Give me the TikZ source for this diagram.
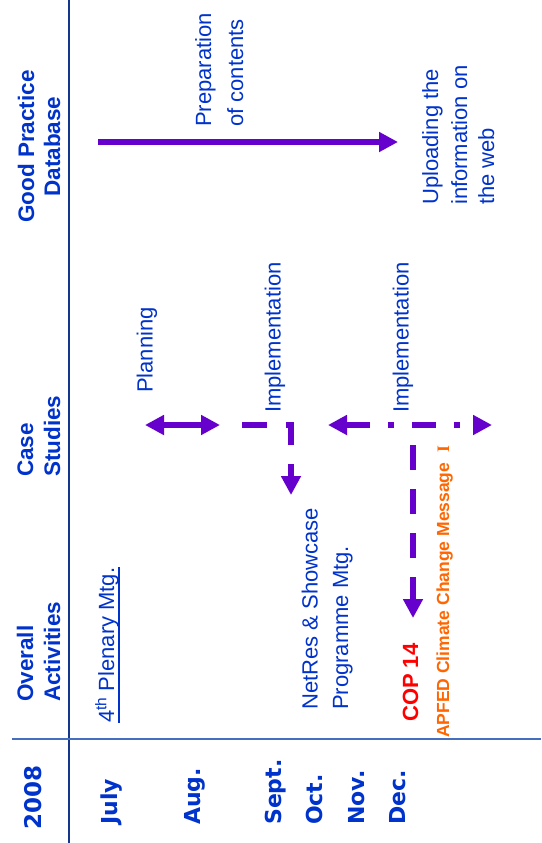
\documentclass[tikz,border=0pt]{standalone}
\usepackage{fontspec}
\setmainfont{Liberation Sans}
\newfontfamily\verdanalike{DejaVu Sans}
\newfontfamily\romanI{Liberation Serif}
\usetikzlibrary{arrows.meta}
\definecolor{txtblue}{RGB}{0,51,204}
\definecolor{arrowpurple}{RGB}{102,0,204}
\definecolor{navyline}{RGB}{20,55,140}
\definecolor{ruleblue}{RGB}{70,110,190}
\definecolor{copred}{RGB}{255,0,0}
\definecolor{apfedorange}{RGB}{255,102,0}
\begin{document}
\begin{tikzpicture}[x=1pt,y=-1pt,
  vtext/.style={rotate=90, inner sep=0pt, anchor=base west, text=txtblue,
    font=\fontsize{22}{26}\selectfont},
  vhead/.style={vtext, font=\fontsize{22.5}{27}\selectfont\bfseries},
  vmonth/.style={vtext, font=\verdanalike\bfseries\fontsize{22}{26}\selectfont},
  tl/.style={line width=6pt, draw=arrowpurple, line join=miter},
  ptip/.tip={Triangle[length=19pt,width=19pt]}
]
\useasboundingbox (0,0) rectangle (541,843);
\fill[white] (0,0) rectangle (541,843);

% rules
\coordinate (vTop) at (69,0);
\coordinate (vBot) at (69,843);
\coordinate (hL) at (12,739);
\coordinate (hR) at (541,739);
\draw[navyline, line width=1.5pt] (vTop) -- (vBot);
\draw[ruleblue, line width=1.5pt] (hL) -- (hR);

% headers
\node[vhead] (hOverall) at (33,702) {Overall};
\node[vhead] (hActivities) at (60,702) {Activities};
\node[vhead] (hCase) at (33,477) {Case};
\node[vhead] (hStudies) at (60,477) {Studies};
\node[vhead, anchor=base] (hGood) at (34,146.5) {Good Practice};
\node[vhead, anchor=base] (hDatabase) at (60,146.5) {Database};

% year and months
\node[vmonth, font=\verdanalike\bfseries\fontsize{23}{27}\selectfont] (y2008) at (41,830) {2008};
\node[vmonth] (mJuly) at (117,825) {July};
\node[vmonth] (mAug) at (200,825) {Aug.};
\node[vmonth] (mSept) at (281,825) {Sept.};
\node[vmonth] (mOct) at (322,825) {Oct.};
\node[vmonth] (mNov) at (364,825) {Nov.};
\node[vmonth] (mDec) at (405,825) {Dec.};

% good practice database
\node[vtext] (tPrep) at (211,127) {Preparation};
\node[vtext] (tCont) at (243,127) {of contents};
\node[vtext] (tUp1) at (438,205) {Uploading the};
\node[vtext] (tUp2) at (467,205) {information on};
\node[vtext] (tUp3) at (494,205) {the web};

% case studies
\node[vtext] (tPlan) at (152.5,393) {Planning};
\node[vtext] (tImpl1) at (280.5,413) {Implementation};
\node[vtext] (tImpl2) at (408.5,413) {Implementation};

% overall activities
\node[vtext] (tPlen) at (114,723) {4\textsuperscript{th} Plenary Mtg.};
\draw[txtblue, line width=1.5pt] (tPlen.south west) -- (tPlen.south east);
\node[vtext] (tNet1) at (317.5,710) {NetRes \& Showcase};
\node[vtext] (tNet2) at (348,710) {Programme Mtg.};
\node[vtext, text=copred, font=\fontsize{22}{26}\selectfont\bfseries] (tCop) at (418,722) {COP 14};
\node[vtext, text=apfedorange, font=\fontsize{17.5}{21}\selectfont\bfseries] (tApfed) at (449,738)
  {APFED Climate Change Message~~{\romanI I}};

% arrows
\coordinate (gpA) at (98,142);
\coordinate (gpB) at (398,142);
\draw[tl, -ptip] (gpA) -- (gpB);

\coordinate (plA) at (145,425);
\coordinate (plB) at (220,425);
\draw[tl, ptip-ptip] (plA) -- (plB);

\coordinate (i1A) at (242,425);
\coordinate (i1C) at (291,425);
\coordinate (i1B) at (291,495);
\draw[tl, dash pattern=on 25pt off 19pt, -ptip] (i1A) -- (i1C) -- (i1B);

\coordinate (i2A) at (328,425);
\coordinate (i2B) at (492,425);
\draw[tl, dash pattern=on 24pt off 18pt on 6pt off 18pt, ptip-ptip] (i2A) -- (i2B);

\coordinate (v3A) at (413,445);
\coordinate (v3B) at (413,618);
\draw[tl, dash pattern=on 25pt off 19pt, -ptip] (v3A) -- (v3B);
\end{tikzpicture}
\end{document}
